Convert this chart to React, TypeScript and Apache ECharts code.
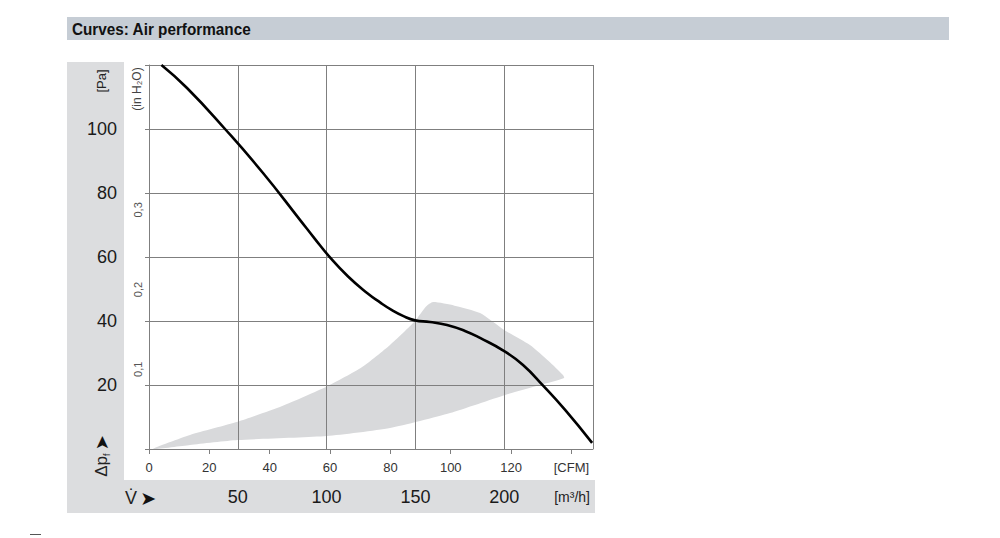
import React, { useEffect, useRef } from "react";
import * as echarts from "echarts";

// Unit conversions
const M3H_PER_CFM = 1.699;
const PA_PER_INH2O = 249.089;

// Axis ranges / ticks
const flowMaxM3h = 250;
const flowIntervalM3h = 50;
const flowIntervalCfm = 20;
const pressureMaxPa = 120;
const pressureIntervalPa = 20;
const pressureIntervalInH2O = 0.1;
const cfmUnitTick = 140;

// Texts
const titleText = "Curves: Air performance";
const paUnit = "[Pa]";
const inH2OUnit = "(in H\u2082O)";
const m3hUnit = "[m\u00b3/h]";
const cfmUnit = "[CFM]";

// Air performance curve (flow in m³/h, pressure in Pa)
const curveFlow = [7, 21.4, 42.8, 64.2, 85.0, 93.5, 101.4, 112.1, 122.8, 130.1, 136.8, 143.0, 149.8, 158.2, 167.8, 177.9, 186.4, 200, 210.6, 221.9, 234.3, 249.5];
const curvePressure = [120, 112.8, 100, 86.25, 71.6, 65.6, 60.2, 53.9, 48.75, 45.8, 43.4, 41.6, 40.2, 39.7, 38.75, 36.9, 34.7, 30.6, 26.25, 19.8, 12.2, 1.9];

// Shaded operating region outline (flow in m³/h, pressure in Pa)
const shadeFlow = [2.25, 23.1, 49.9, 75, 100.1, 120, 135.7, 149.8, 156, 159.9, 172, 186.4, 200, 214.5, 225, 233.1, 233.7, 220.2, 200.5, 169.5, 135.7, 100.1, 49.9, 23.1];
const shadePressure = [0, 4.4, 8.5, 13.4, 19.5, 25.6, 32.5, 40, 44.5, 45.9, 44.8, 42.5, 37.2, 32.5, 27.5, 23.1, 22.2, 20, 16.9, 11.25, 6.56, 4.06, 2.8, 1.25];

const FONT = '"Liberation Sans", Arial, Helvetica, sans-serif';
const GRID_COLOR = "#7f7f7f";

export default function App() {
  const ref = useRef<HTMLDivElement>(null);

  useEffect(() => {
    if (!ref.current) return;
    const chart = echarts.init(ref.current, undefined, { renderer: "svg" });

    const curveData = curveFlow.map((f, i) => [f, curvePressure[i]]);
    const shadeData = shadeFlow.map((f, i) => [f, shadePressure[i]]);

    const option: any = {
      animation: false,
      backgroundColor: "#ffffff",
      textStyle: { fontFamily: FONT },
      grid: { left: 149, top: 65, width: 444, height: 384, containLabel: false },
      xAxis: [
        {
          type: "value",
          min: 0,
          max: flowMaxM3h,
          interval: flowIntervalM3h,
          position: "bottom",
          axisLine: { show: false },
          axisTick: { show: false },
          axisLabel: {
            margin: 39,
            fontSize: 18,
            color: "#1a1a1a",
            fontFamily: FONT,
            formatter: (v: number) => (v > 0 && v < flowMaxM3h ? String(v) : ""),
          },
          splitLine: { show: true, lineStyle: { color: GRID_COLOR, width: 1 } },
        },
        {
          type: "value",
          min: 0,
          max: flowMaxM3h / M3H_PER_CFM,
          interval: flowIntervalCfm,
          position: "bottom",
          axisLine: { show: true, lineStyle: { color: GRID_COLOR, width: 1 } },
          axisTick: { show: true, length: 5, lineStyle: { color: GRID_COLOR } },
          axisLabel: {
            margin: 12,
            fontSize: 13,
            color: "#333333",
            fontFamily: FONT,
            showMaxLabel: false,
            formatter: (v: number) => {
              const r = Math.round(v);
              if (Math.abs(v - r) > 1e-6 || r % flowIntervalCfm !== 0) return "";
              return r === cfmUnitTick ? cfmUnit : String(r);
            },
          },
          splitLine: { show: false },
        },
      ],
      yAxis: [
        {
          type: "value",
          min: 0,
          max: pressureMaxPa,
          interval: pressureIntervalPa,
          position: "left",
          axisLine: { show: true, lineStyle: { color: GRID_COLOR, width: 1 } },
          axisTick: { show: true, length: 4, lineStyle: { color: GRID_COLOR } },
          axisLabel: {
            margin: 32,
            fontSize: 18,
            color: "#1a1a1a",
            fontFamily: FONT,
            formatter: (v: number) => (v > 0 && v < pressureMaxPa ? String(v) : ""),
          },
          splitLine: { show: true, lineStyle: { color: GRID_COLOR, width: 1 } },
        },
        {
          type: "value",
          min: 0,
          max: pressureMaxPa / PA_PER_INH2O,
          interval: pressureIntervalInH2O,
          position: "left",
          axisLine: { show: false },
          axisTick: { show: false },
          splitLine: { show: false },
          axisLabel: {
            rotate: 90,
            margin: 6,
            fontSize: 11,
            color: "#555555",
            fontFamily: FONT,
            showMaxLabel: false,
            formatter: (v: number) => {
              const k = Math.round(v * 10);
              return Math.abs(v * 10 - k) < 1e-6 && k >= 1 && k <= 3 ? "0," + k : "";
            },
          },
        },
      ],
      series: [
        {
          type: "custom",
          xAxisIndex: 0,
          yAxisIndex: 0,
          z: -1,
          silent: true,
          data: shadeData,
          renderItem: (params: any, api: any) => {
            if (params.dataIndex !== 0) return null;
            const pts = shadeData.map((p) => api.coord(p));
            return {
              type: "polygon",
              shape: { points: pts, smooth: 0.2 },
              style: { fill: "#d8d9db", stroke: "none" },
            };
          },
        },
        {
          type: "line",
          xAxisIndex: 0,
          yAxisIndex: 0,
          data: curveData,
          smooth: 0.5,
          symbol: "none",
          lineStyle: { color: "#000000", width: 2.6 },
          z: 5,
        },
      ],
      graphic: [
        { type: "rect", z: -10, shape: { x: 67, y: 17, width: 882, height: 23 }, style: { fill: "#c6cdd5" } },
        {
          type: "text",
          x: 72,
          y: 29,
          scaleX: 0.9,
          style: {
            text: titleText,
            fill: "#111111",
            font: 'bold 17px "Liberation Sans", Arial, sans-serif',
            textAlign: "left",
            textVerticalAlign: "middle",
          },
        },
        { type: "rect", z: -10, shape: { x: 67, y: 62, width: 57, height: 451 }, style: { fill: "#dcdddf" } },
        { type: "rect", z: -10, shape: { x: 124, y: 480, width: 471, height: 33 }, style: { fill: "#dcdddf" } },
        { type: "line", shape: { x1: 30, y1: 534.5, x2: 41, y2: 534.5 }, style: { stroke: "#555555", lineWidth: 1 } },
        {
          type: "text",
          x: 101,
          y: 81,
          rotation: Math.PI / 2,
          style: {
            text: paUnit,
            fill: "#222222",
            font: "13px " + FONT,
            textAlign: "center",
            textVerticalAlign: "middle",
          },
        },
        {
          type: "text",
          x: 137,
          y: 89,
          rotation: Math.PI / 2,
          style: {
            text: inH2OUnit,
            fill: "#444444",
            font: "12px " + FONT,
            textAlign: "center",
            textVerticalAlign: "middle",
          },
        },
        {
          type: "text",
          x: 101,
          y: 456,
          rotation: Math.PI / 2,
          style: {
            text: "{a|\u0394p}{b|f} {c|\u27a4}",
            textAlign: "center",
            textVerticalAlign: "middle",
            rich: {
              a: { fontSize: 17, fontFamily: FONT, fill: "#222222", lineHeight: 20 },
              b: { fontSize: 9, fontFamily: FONT, fill: "#222222", lineHeight: 20, verticalAlign: "bottom" },
              c: { fontSize: 18, fontFamily: '"DejaVu Sans", sans-serif', fill: "#111111", lineHeight: 20 },
            },
          },
        },
        {
          type: "text",
          x: 125,
          y: 498,
          style: {
            text: "{a|V\u0307} {c|\u27a4}",
            textAlign: "left",
            textVerticalAlign: "middle",
            rich: {
              a: { fontSize: 18, fontFamily: FONT, fill: "#222222" },
              c: { fontSize: 19, fontFamily: '"DejaVu Sans", sans-serif', fill: "#111111" },
            },
          },
        },
        {
          type: "text",
          x: 590,
          y: 497,
          style: {
            text: m3hUnit,
            fill: "#222222",
            font: "14px " + FONT,
            textAlign: "right",
            textVerticalAlign: "middle",
          },
        },
      ],
    };

    chart.setOption(option);
    return () => chart.dispose();
  }, []);

  return (
    <div
      ref={ref}
      style={{ position: "absolute", left: 0, top: 0, width: 1000, height: 538 }}
    />
  );
}
